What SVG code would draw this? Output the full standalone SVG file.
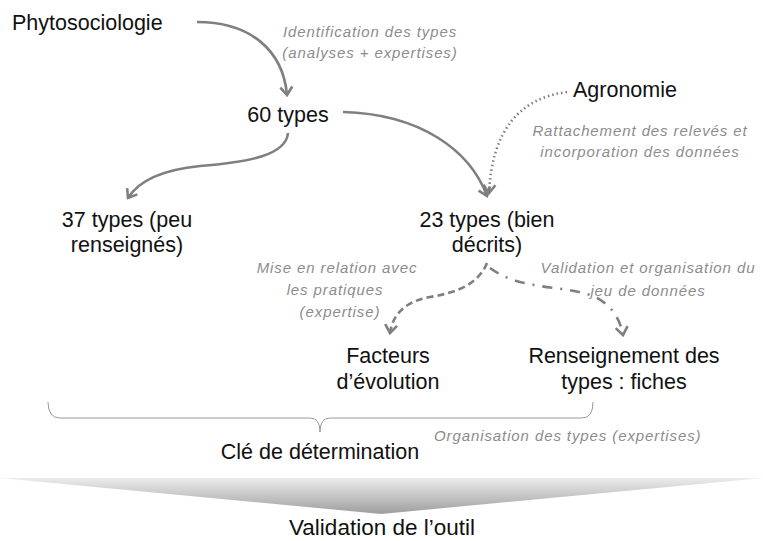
<svg xmlns="http://www.w3.org/2000/svg" width="763" height="541" viewBox="0 0 763 541">
<style>
.t{font-family:"Liberation Sans",Arial,sans-serif;font-size:21.5px;fill:#111;}
.l{font-family:"Liberation Sans",Arial,sans-serif;font-size:15px;font-style:italic;fill:#8c8c8c;letter-spacing:0.9px;}
.c{fill:none;stroke:#7f7f7f;stroke-width:2.6;}
</style>
<defs>
<marker id="ah" viewBox="-10 -8 12 16" markerWidth="12" markerHeight="16" refX="0" refY="0" orient="auto" markerUnits="userSpaceOnUse">
<path d="M-8,-6 L0,0 L-8,6" fill="none" stroke="#7f7f7f" stroke-width="2.6"/>
</marker>
<linearGradient id="gr" x1="0" y1="478" x2="0" y2="514" gradientUnits="userSpaceOnUse">
<stop offset="0" stop-color="#ececec"/>
<stop offset="1" stop-color="#9e9e9e"/>
</linearGradient>
</defs>
<rect width="763" height="541" fill="#fff"/>
<g id="connectors">
<path class="c" d="M197,22 C250,22 283,50 287,95" marker-end="url(#ah)"/>
<path class="c" d="M288,133 C286,155 250,162 200,166 C160,170 138,182 128,198" marker-end="url(#ah)"/>
<path class="c" d="M343,112 C420,114 470,150 487,196" marker-end="url(#ah)"/>
<path class="c" d="M567,92 C520,98 492,130 489,193" stroke-dasharray="1.5 3" marker-end="url(#ah)"/>
<path class="c" d="M487,263 C478,285 455,293 430,297 C408,301 393,312 390,333" stroke-dasharray="7 4" marker-end="url(#ah)"/>
<path class="c" d="M490,268 C520,290 560,285 590,295 C610,302 620,318 623,335" stroke-dasharray="10 8 2 8" marker-end="url(#ah)"/>
<path d="M48,402 Q48,418 60,418 L310,418 Q320,418 320,432 Q320,418 330,418 L582,418 Q593,418 593,402" fill="none" stroke="#9a9a9a" stroke-width="1"/>
</g>
<g id="phyto"><text class="t" x="12" y="30">Phytosociologie</text></g>
<g id="lab1"><text class="l" text-anchor="middle" x="370" y="37">Identification des types</text><text class="l" text-anchor="middle" x="370" y="58">(analyses + expertises)</text></g>
<g id="t60"><text class="t" text-anchor="middle" x="288" y="122">60 types</text></g>
<g id="agro"><text class="t" x="573" y="97">Agronomie</text></g>
<g id="lab2"><text class="l" text-anchor="middle" x="640" y="136">Rattachement des relevés et</text><text class="l" text-anchor="middle" x="640" y="157">incorporation des données</text></g>
<g id="t37"><text class="t" text-anchor="middle" x="127" y="227">37 types (peu</text><text class="t" text-anchor="middle" x="127" y="252">renseignés)</text></g>
<g id="t23"><text class="t" text-anchor="middle" x="487" y="227">23 types (bien</text><text class="t" text-anchor="middle" x="487" y="252">décrits)</text></g>
<g id="lab3"><text class="l" text-anchor="middle" x="337" y="273">Mise en relation avec</text><text class="l" text-anchor="middle" x="335" y="295">les pratiques</text><text class="l" text-anchor="middle" x="340" y="317">(expertise)</text></g>
<g id="lab4"><text class="l" text-anchor="middle" x="648" y="273">Validation et organisation du</text><text class="l" text-anchor="middle" x="648" y="296">jeu de données</text></g>
<g id="facteurs"><text class="t" text-anchor="middle" x="388" y="363">Facteurs</text><text class="t" text-anchor="middle" x="388" y="389">d’évolution</text></g>
<g id="fiches"><text class="t" text-anchor="middle" x="624" y="363">Renseignement des</text><text class="t" text-anchor="middle" x="624" y="389">types : fiches</text></g>
<g id="lab5"><text class="l" x="434" y="441">Organisation des types (expertises)</text></g>
<g id="cle"><text class="t" text-anchor="middle" x="320" y="459">Clé de détermination</text></g>
<g id="fleche"><polygon points="0,478 763,478 381,514" fill="url(#gr)"/></g>
<g id="valid"><text class="t" text-anchor="middle" x="382" y="535" style="font-size:22.5px">Validation de l’outil</text></g>
</svg>
